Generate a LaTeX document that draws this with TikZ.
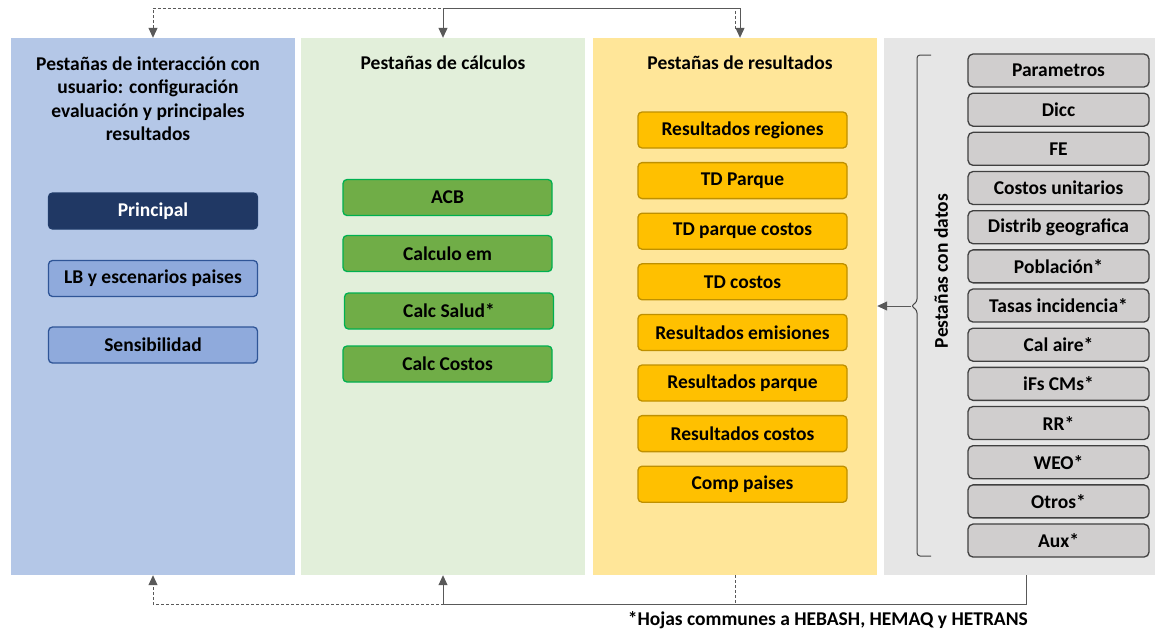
\documentclass[tikz,border=0pt]{standalone}
\usepackage{fontspec}
\setmainfont{Carlito}
\usetikzlibrary{arrows.meta,calc}
\definecolor{pblue}{HTML}{B4C7E7}
\definecolor{pgreen}{HTML}{E2EFDA}
\definecolor{pyellow}{HTML}{FFE699}
\definecolor{pgray}{HTML}{E6E6E6}
\definecolor{navy}{HTML}{203864}
\definecolor{navyline}{HTML}{2F5597}
\definecolor{lblue}{HTML}{8FAADC}
\definecolor{bgreen}{HTML}{70AD47}
\definecolor{bgreenline}{HTML}{00B050}
\definecolor{byellow}{HTML}{FFC000}
\definecolor{byellowline}{HTML}{BF9000}
\definecolor{bgray}{HTML}{D0CECE}
\definecolor{bgrayline}{HTML}{404040}
\definecolor{arrgray}{HTML}{595959}
\tikzset{ah/.tip={Triangle[length=10pt,width=9pt]}}
\begin{document}
\begin{tikzpicture}[x=1pt,y=-1pt,
  font=\bfseries\fontsize{19.5}{23.5}\selectfont,
  panel/.style={draw=none, minimum height=537pt, inner sep=0pt},
  box/.style={rounded corners=4pt, minimum width=209pt, minimum height=36pt, line width=1.3pt, inner sep=0pt},
  bluebox/.style={box, fill=lblue, draw=navyline},
  navybox/.style={box, fill=navy, draw=navyline!70!black, text=white},
  greenbox/.style={box, fill=bgreen, draw=bgreenline},
  yelbox/.style={box, fill=byellow, draw=byellowline},
  graybox/.style={rounded corners=5pt, minimum width=181pt, minimum height=33pt, line width=1.3pt, inner sep=0pt, fill=bgray, draw=bgrayline},
  sol/.style={draw=arrgray, line width=1pt},
  dsh/.style={draw=arrgray, line width=1pt, dash pattern=on 3pt off 2pt},
]
\useasboundingbox (0,0) rectangle (1155,630);

% panels
\node[panel, fill=pblue, minimum width=284pt] (PB) at (153,306.5) {};
\node[panel, fill=pgreen, minimum width=284pt] (PG) at (443,306.5) {};
\node[panel, fill=pyellow, minimum width=284pt] (PY) at (735,306.5) {};
\node[panel, fill=pgray, minimum width=271pt] (PR) at (1019.5,306.5) {};

% titles
\node[align=center] (TB) at (148,98.5) {Pestañas de interacción con\\usuario: configuración\\evaluación y principales\\resultados};
\node (TG) at (443,63) {Pestañas de cálculos};
\node (TY) at (740,63) {Pestañas de resultados};

% blue boxes
\node[navybox] (principal) at (153,211) {Principal};
\node[bluebox] (lb) at (153,278.5) {LB y escenarios paises};
\node[bluebox] (sens) at (153,345) {Sensibilidad};

% green boxes
\node[greenbox] (acb) at (447.5,197.5) {ACB};
\node[greenbox] (calem) at (447.5,253.5) {Calculo em};
\node[greenbox] (salud) at (449,311) {Calc Salud*};
\node[greenbox] (ccost) at (447.5,364) {Calc Costos};

% yellow boxes
\foreach \t [count=\i from 0] in {Resultados regiones, TD Parque, TD parque costos, TD costos, Resultados emisiones, Resultados parque, Resultados costos, Comp paises}
  \node[yelbox] (y\i) at (742.5,130+50.6*\i) {\t};

% gray boxes
\foreach \t [count=\i from 0] in {Parametros, Dicc, FE, Costos unitarios, Distrib geografica, Población*, Tasas incidencia*, Cal aire*, iFs CMs*, RR*, WEO*, Otros*, Aux*}
  \node[graybox] (g\i) at (1058.5,70.5+39.17*\i) {\t};

% brace
\coordinate (btip) at (911,306);
\draw[arrgray!80!black, line width=1pt, rounded corners=3pt]
  (931,55) -- (917,55) -- (917,302) -- (btip) -- (917,310) -- (917,556) -- (931,556);
\node[rotate=90] (datos) at (941,271) {Pestañas con datos};
\draw[sol, -{ah}] (btip) -- (btip -| PY.east);

% top connectors
\coordinate (tl) at (153,8);
\coordinate (tm) at (443,8);
\coordinate (tr) at (740,8);
\coordinate (trd) at (735,8);
\coordinate (trdend) at (735,29);
\draw[dsh, {ah}-] (PB.north) -- (tl) -- (trd) -- (trdend);
\draw[sol, {ah}-{ah}] (PG.north) -- (tm) -- (tr) -- (tr |- PY.north);

% bottom connectors
\coordinate (bl) at (153,604);
\coordinate (bm) at (443,604);
\coordinate (by) at (735,604);
\coordinate (bg) at (1026,604);
\draw[dsh, -{ah}] (PY.south) -- (by) -- (bl) -- (PB.south);
\draw[sol, -{ah}] (bg |- PR.south) -- (bg) -- (bm) -- (PG.south);

% footnote
\node[anchor=east, inner sep=0pt] (foot) at (1028,620) {*Hojas communes a HEBASH, HEMAQ y HETRANS};
\end{tikzpicture}
\end{document}
